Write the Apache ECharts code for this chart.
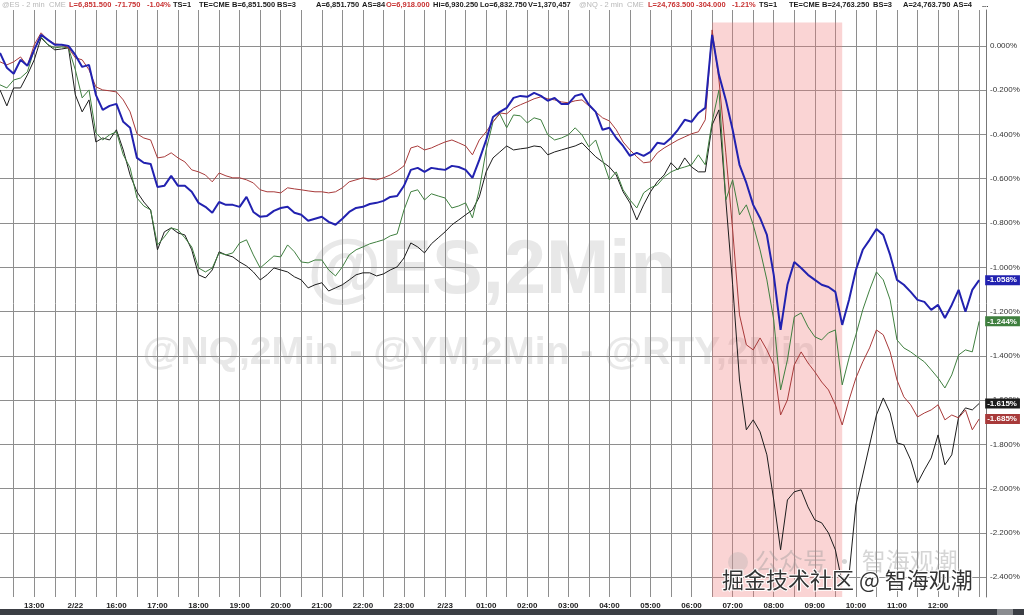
<!DOCTYPE html>
<html>
<head>
<meta charset="utf-8">
<script src="https://cdn.jsdelivr.net/npm/echarts@6/dist/echarts.min.js"></script>
<style>
html,body{margin:0;padding:0;background:#fff;}
#chart{width:1024px;height:615px;}
</style>
</head>
<body>
<div id="chart"></div>
<script>
// ---- sessions (date, first bar, last bar), 10-minute samples ----
const sessions = [['2/20','12:10','13:50'],['2/22','15:00','23:50'],['2/23','00:00','13:10']];
const dayLabels = {'2/22 15:00':'2/22','2/23 00:00':'2/23'};
const shadeRange = ['2/23 06:30','2/23 09:40'];
const shadeTop = 0.105;

// ---- series values (% change) ----
const esValues = [
-0.032,-0.099,-0.126,-0.063,-0.090,-0.018,0.050,0.027,0.005,0.005,0.000,
-0.041,-0.095,-0.086,-0.221,-0.289,-0.271,-0.262,-0.343,-0.370,-0.506,-0.528,-0.533,-0.637,-0.632,-0.587,-0.632,-0.632,-0.659,
-0.709,-0.727,-0.754,-0.705,-0.718,-0.718,-0.727,-0.682,-0.750,-0.772,-0.768,-0.745,-0.732,-0.727,-0.754,-0.763,-0.790,-0.781,
-0.772,-0.795,-0.808,-0.781,-0.750,-0.732,-0.727,-0.714,-0.709,-0.700,-0.682,-0.678,-0.632,-0.560,-0.551,-0.569,-0.551,-0.556,
-0.560,-0.542,-0.547,-0.560,-0.596,-0.515,-0.425,-0.321,-0.298,-0.280,-0.235,-0.226,-0.230,-0.212,-0.226,-0.248,-0.235,-0.262,
-0.262,-0.226,-0.217,-0.266,-0.298,-0.379,-0.370,-0.416,-0.452,-0.497,-0.483,-0.497,-0.479,-0.438,-0.443,-0.416,-0.379,-0.334,
-0.343,-0.303,-0.280,0.050,-0.131,-0.244,-0.379,-0.537,-0.619,-0.718,-0.777,-0.854,-1.034,-1.283,-1.079,-0.976,-1.003,-1.034,
-1.057,-1.079,-1.089,-1.111,-1.260,-1.147,-1.012,-0.921,-0.876,-0.827,-0.854,-0.944,-1.057,-1.079,-1.111,-1.147,-1.156,-1.192,
-1.170,-1.229,-1.170,-1.102,-1.201,-1.102,-1.058];
const ymValues = [
-0.072,-0.086,-0.072,-0.050,-0.090,0.005,0.059,0.027,0.009,0.005,-0.009,
-0.054,-0.063,-0.108,-0.185,-0.199,-0.203,-0.208,-0.244,-0.298,-0.397,-0.416,-0.425,-0.506,-0.501,-0.483,-0.506,-0.524,-0.560,
-0.569,-0.583,-0.614,-0.574,-0.587,-0.596,-0.596,-0.605,-0.619,-0.650,-0.659,-0.659,-0.664,-0.641,-0.646,-0.650,-0.655,-0.659,
-0.659,-0.664,-0.659,-0.641,-0.614,-0.605,-0.596,-0.601,-0.605,-0.596,-0.583,-0.565,-0.542,-0.461,-0.452,-0.470,-0.461,-0.447,
-0.434,-0.425,-0.438,-0.452,-0.492,-0.425,-0.388,-0.343,-0.303,-0.307,-0.280,-0.266,-0.253,-0.239,-0.230,-0.239,-0.244,-0.253,
-0.257,-0.248,-0.244,-0.271,-0.298,-0.325,-0.339,-0.379,-0.434,-0.470,-0.501,-0.528,-0.524,-0.483,-0.461,-0.443,-0.425,-0.411,
-0.397,-0.388,-0.334,0.072,-0.154,-0.483,-0.831,-1.215,-1.350,-1.373,-1.319,-1.373,-1.441,-1.667,-1.599,-1.441,-1.382,-1.432,
-1.472,-1.518,-1.554,-1.621,-1.712,-1.599,-1.500,-1.427,-1.364,-1.283,-1.305,-1.382,-1.509,-1.585,-1.621,-1.676,-1.658,-1.644,
-1.621,-1.689,-1.667,-1.680,-1.644,-1.734,-1.685];
const nqValues = [
-0.176,-0.190,-0.154,-0.145,-0.117,-0.018,0.041,0.005,-0.009,-0.005,-0.009,
-0.108,-0.235,-0.199,-0.393,-0.425,-0.402,-0.388,-0.492,-0.551,-0.687,-0.723,-0.741,-0.899,-0.863,-0.822,-0.831,-0.867,-0.908,
-1.003,-1.021,-1.003,-0.935,-0.944,-0.935,-0.890,-0.876,-0.944,-1.003,-0.976,-0.949,-0.953,-0.899,-0.930,-0.976,-0.980,-0.967,
-0.967,-1.012,-1.039,-0.998,-0.944,-0.921,-0.908,-0.894,-0.885,-0.876,-0.858,-0.849,-0.741,-0.659,-0.650,-0.696,-0.668,-0.678,
-0.687,-0.732,-0.723,-0.709,-0.777,-0.650,-0.470,-0.343,-0.307,-0.370,-0.312,-0.316,-0.348,-0.325,-0.334,-0.402,-0.425,-0.416,
-0.402,-0.370,-0.402,-0.456,-0.425,-0.515,-0.605,-0.569,-0.650,-0.696,-0.732,-0.664,-0.641,-0.628,-0.592,-0.569,-0.556,-0.547,
-0.537,-0.492,-0.537,-0.343,-0.199,-0.696,-0.605,-0.763,-0.718,-0.808,-0.921,-1.057,-1.238,-1.554,-1.418,-1.224,-1.206,-1.269,
-1.314,-1.328,-1.296,-1.283,-1.531,-1.409,-1.305,-1.192,-1.102,-1.021,-1.057,-1.147,-1.328,-1.364,-1.382,-1.405,-1.427,-1.463,
-1.500,-1.545,-1.486,-1.396,-1.373,-1.382,-1.244];
const rtyValues = [
-0.199,-0.271,-0.190,-0.190,-0.131,-0.063,0.036,0.005,-0.018,-0.014,-0.009,
-0.221,-0.298,-0.244,-0.434,-0.416,-0.425,-0.379,-0.470,-0.583,-0.659,-0.705,-0.741,-0.921,-0.840,-0.822,-0.845,-0.854,-0.921,
-1.034,-1.048,-1.012,-0.930,-0.944,-0.953,-0.976,-0.994,-1.021,-1.057,-1.034,-1.003,-1.012,-1.021,-1.043,-1.057,-1.093,-1.079,
-1.070,-1.107,-1.093,-1.079,-1.057,-1.034,-1.025,-1.025,-1.039,-1.030,-1.012,-0.998,-0.958,-0.890,-0.908,-0.935,-0.894,-0.867,
-0.840,-0.808,-0.786,-0.763,-0.741,-0.682,-0.569,-0.506,-0.479,-0.452,-0.470,-0.465,-0.461,-0.452,-0.456,-0.492,-0.479,-0.470,
-0.461,-0.452,-0.438,-0.470,-0.501,-0.524,-0.547,-0.583,-0.659,-0.709,-0.786,-0.718,-0.659,-0.614,-0.583,-0.528,-0.560,-0.506,
-0.547,-0.569,-0.569,-0.357,-0.289,-0.696,-1.079,-1.509,-1.734,-1.689,-1.743,-1.847,-2.051,-2.276,-2.051,-2.014,-2.005,-2.082,
-2.141,-2.154,-2.200,-2.276,-2.425,-2.389,-2.073,-1.938,-1.802,-1.667,-1.590,-1.658,-1.793,-1.802,-1.870,-1.974,-1.915,-1.861,
-1.757,-1.892,-1.847,-1.676,-1.635,-1.644,-1.615];

const seriesNames = ['@RTY','@NQ','@YM','@ES'];
const seriesColors = ['#1c1c1c','#3f7f3f','#a83a3a','#2222b0'];
const endLabels = ['-1.615%','-1.244%','-1.685%','-1.058%'];

const headerItems = [
 ['@ES - 2 min',2,'g'],['CME',49,'g'],['L=6,851.500',69,'r'],['-71.750',115,'r'],['-1.04%',147,'r'],
 ['TS=1',173,'k'],['TE=CME',199,'k'],['B=6,851.500',232,'k'],['BS=3',277,'k'],['A=6,851.750',316,'k'],
 ['AS=84',362,'k'],['O=6,918.000',386,'r'],['Hi=6,930.250',433,'k'],['Lo=6,832.750',480,'k'],['V=1,370,457',528,'k'],
 ['@NQ - 2 min',579,'g'],['CME',627,'g'],['L=24,763.500',648,'r'],['-304.000',696,'r'],['-1.21%',732,'r'],
 ['TS=1',759,'k'],['TE=CME',789,'k'],['B=24,763.250',822,'k'],['BS=3',873,'k'],['A=24,763.750',903,'k'],
 ['AS=4',953,'k'],['...',982,'k']
];
const headerColors = {g:'#b8b8b8', r:'#c83232', k:'#1a1a1a'};

// ---- build categories ----
function toMin(t){const p=t.split(':');return (+p[0])*60+(+p[1]);}
function fmt(m){const h=Math.floor(m/60),mm=m%60;return (h<10?'0':'')+h+':'+(mm<10?'0':'')+mm;}
const categories = [];
sessions.forEach(s=>{for(let m=toMin(s[1]);m<=toMin(s[2]);m+=10) categories.push(s[0]+' '+fmt(m));});
const lastDataIdx = esValues.length-1;

const chart = echarts.init(document.getElementById('chart'), null, {renderer:'canvas'});
const gridCol = '#8e8e8e';

const seriesData = [rtyValues, nqValues, ymValues, esValues];
const series = seriesData.map((d,i)=>({
  name: seriesNames[i], type:'line', data:d, symbol:'none', showSymbol:false,
  lineStyle:{color:seriesColors[i], width: i===3?2:1},
  itemStyle:{color:seriesColors[i]},
  z: 3+i, silent:true, animation:false,
  endLabel:{show:true, formatter:()=>endLabels[i], color:'#fff', backgroundColor:seriesColors[i],
    fontSize:8, fontWeight:'bold', fontFamily:'Liberation Sans, Arial', padding:[1,3,1,2], distance:6,
    verticalAlign:'middle', align:'left'}
}));
series[0].markArea = {
  silent:true,
  itemStyle:{color:'rgba(238,120,120,0.32)'},
  data:[[{xAxis:shadeRange[0], yAxis:shadeTop},{xAxis:shadeRange[1], yAxis:-2.489}]]
};

const graphics = [];
graphics.push({type:'text', z:-10, x:492, y:272, style:{text:'@ES,2Min', fill:'#e8e8e8', font:'bold 76px "Liberation Sans", Arial', textAlign:'center', textVerticalAlign:'middle'}});
graphics.push({type:'text', z:-10, x:479, y:353, style:{text:'@NQ,2Min - @YM,2Min - @RTY,2Min', fill:'#e8e8e8', font:'bold 39px "Liberation Sans", Arial', textAlign:'center', textVerticalAlign:'middle'}});
graphics.push({type:'circle', z:50, shape:{cx:738, cy:562, r:10}, style:{fill:'rgba(170,170,170,0.3)'}});
graphics.push({type:'text', z:50, x:755, y:561, style:{text:'公众号 · 智海观潮', fill:'rgba(150,150,150,0.4)', font:'24px "Noto Sans CJK SC"', textAlign:'left', textVerticalAlign:'middle'}});
graphics.push({type:'text', z:51, x:722, y:580, style:{text:'掘金技术社区 @ 智海观潮', fill:'#333', stroke:'#fff', lineWidth:2, font:'22px "Noto Sans CJK SC"', textAlign:'left', textVerticalAlign:'middle'}});
headerItems.forEach(h=>{
  const gray = h[2]==='g';
  graphics.push({type:'text', z:60, x:h[1], y:1, style:{text:h[0], fill:headerColors[h[2]], font:(gray?'':'bold ')+'7.5px "Liberation Sans", Arial', textVerticalAlign:'top'}});
});
graphics.push({type:'rect', z:60, shape:{x:0,y:609,width:1024,height:6}, style:{fill:'#3b3e44'}});
graphics.push({type:'rect', z:61, shape:{x:997,y:609,width:16,height:6}, style:{fill:'#8a8c90'}});

chart.setOption({
  animation:false,
  backgroundColor:'#fff',
  grid:{left:-2, right:38, top:10, bottom:18, containLabel:false},
  xAxis:{
    type:'category', data:categories, boundaryGap:false,
    axisLine:{show:false}, axisTick:{show:false},
    axisLabel:{
      interval:(idx,val)=> idx<lastDataIdx && val.slice(-2)==='00',
      formatter:(val)=> dayLabels[val] || val.split(' ')[1],
      fontSize:8, fontWeight:'bold', color:'#222', margin:5, fontFamily:'Liberation Sans, Arial'
    },
    splitLine:{show:true, interval:(idx,val)=>{const m=val.slice(-2);return m==='00'||m==='30';}, lineStyle:{color:gridCol, width:1}}
  },
  yAxis:{
    type:'value', position:'right', min:-2.489, max:0.162, splitNumber:13,
    axisLine:{show:true, lineStyle:{color:'#777'}}, axisTick:{show:false},
    axisLabel:{formatter:v=>v.toFixed(3)+'%', fontSize:8, color:'#333', margin:4, showMinLabel:false, showMaxLabel:false, fontFamily:'Liberation Sans, Arial'},
    splitLine:{show:true, showMinLine:false, showMaxLine:false, lineStyle:{color:gridCol, width:1}}
  },
  graphic:graphics,
  series:series
});
</script>
</body>
</html>
